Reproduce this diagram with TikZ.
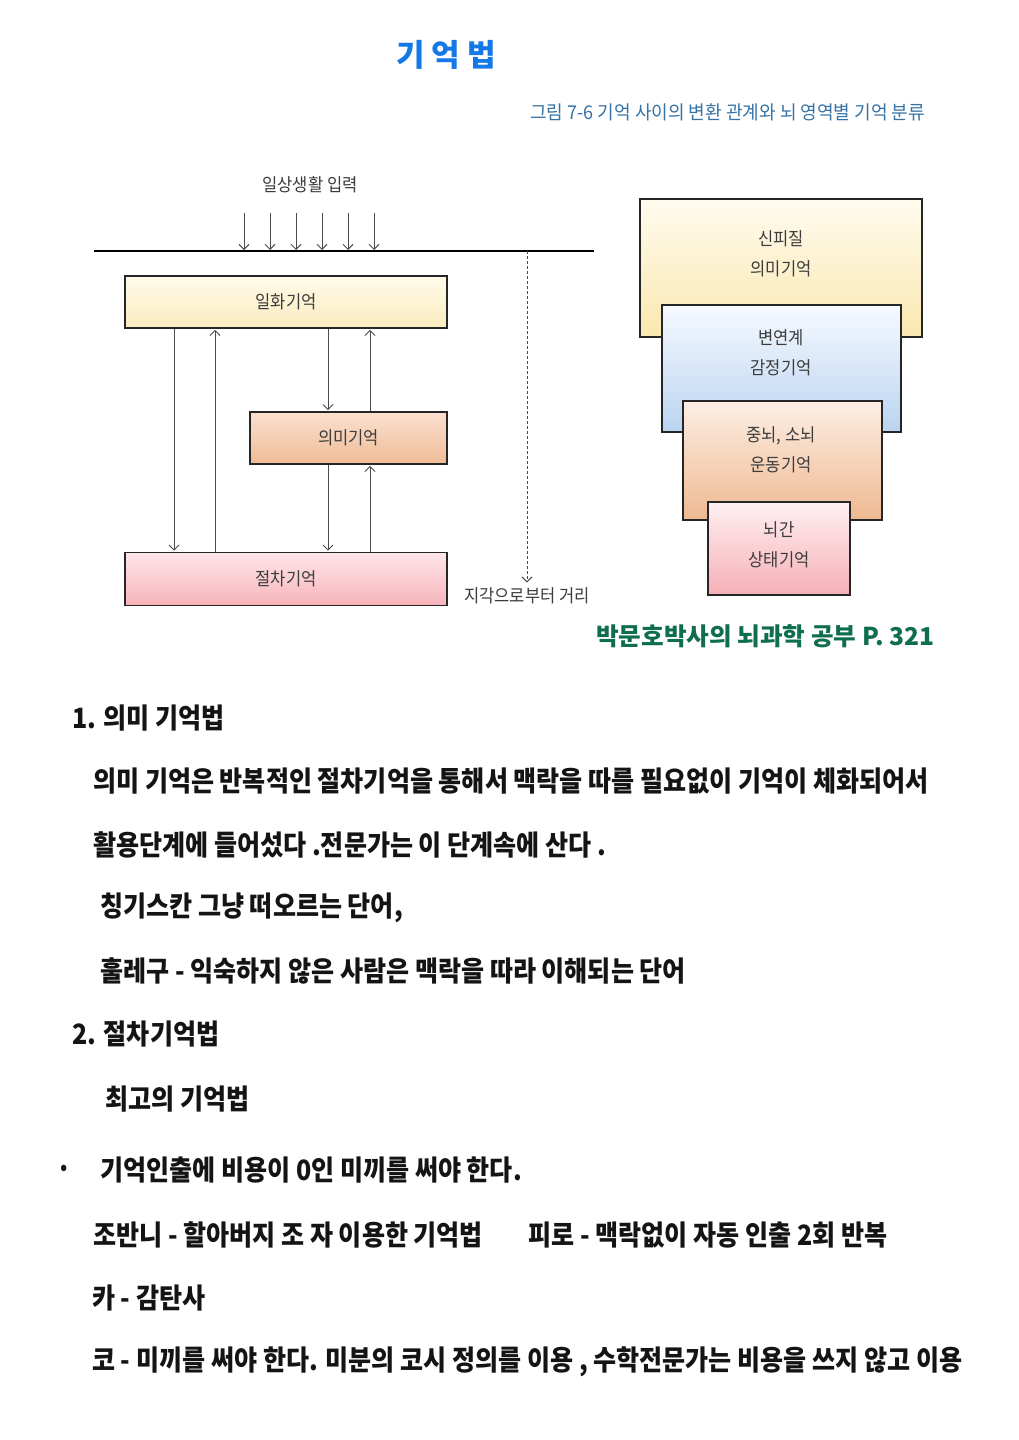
\documentclass[tikz,border=0pt]{standalone}
\usepackage{fontspec}
\setmainfont{Noto Sans CJK KR}
\newfontfamily\diagfont[FakeStretch=0.92]{Noto Sans CJK KR}
\newfontfamily\capfont[FakeStretch=0.95]{Noto Sans CJK KR}
\newfontfamily\bodyfont[FakeStretch=0.895]{Noto Sans CJK KR}
\usetikzlibrary{arrows.meta}

\definecolor{titleblue}{RGB}{20,120,230}
\definecolor{capblue}{RGB}{55,115,165}
\definecolor{srcgreen}{RGB}{15,110,80}
\definecolor{textgray}{RGB}{60,60,60}
\definecolor{arrowgray}{RGB}{75,75,75}

\tikzset{
  flow/.style={draw=arrowgray, line width=1pt, shorten >=1pt, -{Straight Barb[length=5pt,width=10pt]}},
  membox/.style={draw=black!85, line width=1.6pt, inner sep=0pt},
  lbl/.style={text=textgray, font=\diagfont\fontsize{18}{30}\selectfont, align=center, inner sep=0pt},
  bodyline/.style={anchor=west, inner sep=0pt, text=black!92, font=\bodyfont\bfseries\fontsize{28}{30}\selectfont},
}

\begin{document}
\begin{tikzpicture}[x=1pt, y=-1pt]
  \fill[white] (0,0) rectangle (1018,1440);
  \useasboundingbox (0,0) rectangle (1018,1440);

  % title and caption
  \node[text=titleblue, font=\bfseries\fontsize{31}{31}\selectfont] (title) at (446,55) {기 억 법};
  \node[anchor=west, inner sep=0pt, text=capblue, font=\capfont\fontsize{19}{19}\selectfont] (cap) at (530,112) {그림 7-6 기억 사이의 변환 관계와 뇌 영역별 기억 분류};

  % left diagram
  \node[lbl] (input) at (310,185) {일상생활 입력};
  \coordinate (baseL) at (94,251);
  \coordinate (baseR) at (594,251);
  \draw[line width=1.6pt] (baseL) -- (baseR);
  \foreach \i/\x in {1/244,2/270,3/296,4/322,5/348,6/374} {
    \coordinate (in\i) at (\x,213);
    \draw[flow] (in\i) -- (in\i |- baseL);
  }

  \node[membox, minimum width=322pt, minimum height=52pt, top color={rgb,255:red,255;green,251;blue,234}, bottom color={rgb,255:red,250;green,236;blue,190}] (ep) at (286,302) {};
  \node[lbl] at (ep) {일화기억};
  \node[membox, minimum width=197pt, minimum height=52pt, top color={rgb,255:red,250;green,224;blue,208}, bottom color={rgb,255:red,240;green,188;blue,150}] (sem) at (348.5,438) {};
  \node[lbl] at (sem) {의미기억};
  \node[membox, minimum width=322pt, minimum height=53pt, top color={rgb,255:red,255;green,230;blue,234}, bottom color={rgb,255:red,246;green,180;blue,186}] (proc) at (286,579) {};
  \node[lbl] at (proc) {절차기억};

  \coordinate (c1) at (174,0);
  \coordinate (c2) at (215,0);
  \coordinate (c3) at (328,0);
  \coordinate (c4) at (370,0);
  \draw[flow] (ep.south -| c1) -- (proc.north -| c1);
  \draw[flow] (proc.north -| c2) -- (ep.south -| c2);
  \draw[flow] (ep.south -| c3) -- (sem.north -| c3);
  \draw[flow] (sem.north -| c4) -- (ep.south -| c4);
  \draw[flow] (sem.south -| c3) -- (proc.north -| c3);
  \draw[flow] (proc.north -| c4) -- (sem.south -| c4);

  \node[lbl] (dist) at (527,596) {지각으로부터 거리};
  \draw[flow, dash pattern=on 3pt off 2pt, shorten >=5pt] (baseL -| dist) -- (dist.north);

  % right diagram
  \node[membox, minimum width=282pt, minimum height=138pt, top color={rgb,255:red,255;green,251;blue,238}, bottom color={rgb,255:red,250;green,232;blue,175}] (neo) at (781,268) {};
  \node[lbl] (neoT) at (781,254) {신피질\\의미기억};
  \node[membox, minimum width=239pt, minimum height=127pt, top color={rgb,255:red,246;green,249;blue,255}, bottom color={rgb,255:red,185;green,212;blue,240}] (limb) at (781.5,368.5) {};
  \node[lbl] (limbT) at (781,353) {변연계\\감정기억};
  \node[membox, minimum width=199pt, minimum height=119pt, top color={rgb,255:red,253;green,238;blue,228}, bottom color={rgb,255:red,238;green,185;blue,145}] (mid) at (782.5,460.5) {};
  \node[lbl] (midT) at (781,450) {중뇌, 소뇌\\운동기억};
  \node[membox, minimum width=142pt, minimum height=93pt, top color={rgb,255:red,255;green,240;blue,242}, bottom color={rgb,255:red,245;green,175;blue,182}] (stem) at (779,548.5) {};
  \node[lbl] (stemT) at (779,545) {뇌간\\상태기억};

  \node[anchor=west, inner sep=0pt, text=srcgreen, font=\bfseries\fontsize{24.6}{24.6}\selectfont] (src) at (596,636) {박문호박사의 뇌과학 공부 P. 321};

  % body text
  \node[bodyline] (h1) at (72,718) {1. 의미 기억법};
  \node[bodyline] (t1) at (93,781) {의미 기억은 반복적인 절차기억을 통해서 맥락을 따를 필요없이 기억이 체화되어서};
  \node[bodyline] (t2) at (93,845) {활용단계에 들어섰다 .전문가는 이 단계속에 산다 .};
  \node[bodyline] (t3) at (100,908) {칭기스칸 그냥 떠오르는 단어,};
  \node[bodyline] (t4) at (100,971) {훌레구 - 익숙하지 않은 사람은 맥락을 따라 이해되는 단어};
  \node[bodyline] (h2) at (72,1034) {2. 절차기억법};
  \node[bodyline] (t5) at (105,1099) {최고의 기억법};
  \node[bodyline, font=\bodyfont\fontsize{24}{24}\selectfont] (dot) at (60,1170) {•};
  \node[bodyline] (t6) at (100,1170) {기억인출에 비용이 0인 미끼를 써야 한다.};
  \node[bodyline] (t7) at (93,1235) {조반니 - 할아버지 조 자 이용한 기억법};
  \node[bodyline] (t8) at (528,1235) {피로 - 맥락없이 자동 인출 2회 반복};
  \node[bodyline] (t9) at (92,1298) {카 - 감탄사};
  \node[bodyline] (t10) at (92,1362) {코 - 미끼를 써야 한다. 미분의 코시 정의를 이용 , 수학전문가는 비용을 쓰지 않고 이용};
\end{tikzpicture}
\end{document}
